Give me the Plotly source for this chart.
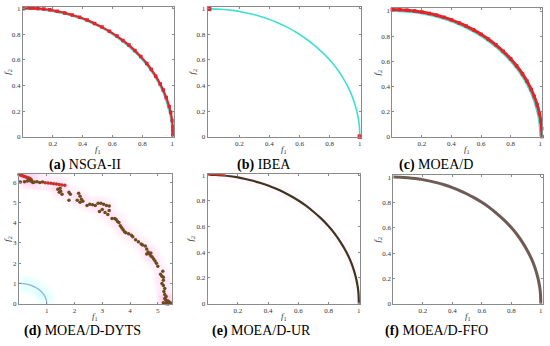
import plotly.graph_objects as go

W, H = 550, 346

# ---------------- data ----------------
# true Pareto front (quarter circle), read at regular spacing
pf_f1 = [0.0, 0.078, 0.156, 0.233, 0.309, 0.383, 0.454, 0.523, 0.588, 0.649, 0.707,
         0.760, 0.809, 0.853, 0.891, 0.924, 0.951, 0.972, 0.988, 0.997, 1.0]
pf_f2 = [1.0, 0.997, 0.988, 0.972, 0.951, 0.924, 0.891, 0.853, 0.809, 0.760, 0.707,
         0.649, 0.588, 0.523, 0.454, 0.383, 0.309, 0.233, 0.156, 0.078, 0.0]

# (a) NSGA-II
nsga_f1 = [0.0, 0.05, 0.07, 0.10, 0.14, 0.18, 0.23, 0.28, 0.33, 0.38, 0.43, 0.48, 0.53, 0.58,
           0.63, 0.67, 0.71, 0.75, 0.79, 0.83, 0.86, 0.89, 0.92, 0.94, 0.96, 0.98, 0.99,
           1.0, 1.005, 1.005, 1.005, 1.005]
nsga_f2 = [1.0, 1.007, 1.006, 1.003, 0.998, 0.992, 0.981, 0.968, 0.952, 0.934, 0.912, 0.886,
           0.857, 0.824, 0.787, 0.753, 0.716, 0.673, 0.626, 0.572, 0.526, 0.473, 0.412,
           0.364, 0.307, 0.236, 0.190, 0.127, 0.078, 0.05, 0.02, 0.0]

# (b) IBEA
ibea_f1 = [0.0, 1.0]
ibea_f2 = [1.0, 0.0]

# (c) MOEA/D
moead_f1 = [0.0, 0.05, 0.10, 0.15, 0.20, 0.25, 0.30, 0.35, 0.40, 0.45, 0.50, 0.55, 0.60,
            0.65, 0.70, 0.75, 0.80, 0.84, 0.88, 0.91, 0.94, 0.96, 0.98, 0.995, 1.005,
            1.010, 1.012]
moead_f2 = [1.012, 1.011, 1.007, 1.001, 0.992, 0.981, 0.967, 0.950, 0.930, 0.906, 0.880,
            0.850, 0.815, 0.776, 0.731, 0.679, 0.620, 0.564, 0.500, 0.443, 0.375, 0.320,
            0.252, 0.185, 0.119, 0.064, 0.0]

# (d) MOEA/D-DYTS
dyts_red_f1 = [0.0, 0.05, 0.1, 0.15, 0.2, 0.25, 0.3, 0.35, 0.4,
               0.95, 1.05, 1.15, 1.25, 1.35, 1.45, 1.55, 1.65, 5.3, 5.4]
dyts_red_f2 = [6.37, 6.35, 6.33, 6.3, 6.28, 6.25, 6.22, 6.2, 6.18,
               5.97, 5.96, 5.94, 5.92, 5.9, 5.88, 5.86, 5.84, 0.0, 0.02]
dyts_f1 = [0.05, 0.2, 0.3, 0.35, 0.42, 0.45, 0.5, 0.55, 0.65, 0.75, 0.85,
           1.4, 1.45, 1.48, 1.5, 1.55,
           1.8, 1.85, 1.8, 2.1, 2.15, 2.2, 2.25, 2.3, 2.2,
           2.45, 2.55, 2.65, 2.75,
           2.85, 2.95, 3.05, 3.15, 3.25, 2.9, 3.0, 3.1, 3.2, 3.25,
           3.35, 3.45, 3.5, 3.55, 3.6,
           3.65, 3.7, 3.75, 3.8, 3.85,
           3.95, 4.05, 4.1, 4.2, 4.3, 4.4, 4.45, 4.55,
           4.6, 4.65, 4.7, 4.75, 4.8, 4.85, 4.9, 4.95, 4.6, 4.75,
           5.0, 5.1, 5.15, 5.2, 5.15, 5.2, 5.25, 5.22, 5.25, 5.3, 5.28, 5.35, 5.4,
           5.3, 5.45, 5.38, 5.42, 5.2, 5.25, 5.18, 5.2, 5.32, 5.36]
dyts_f2 = [6.0, 6.02, 6.05, 6.12, 6.05, 6.1, 5.98, 6.0, 6.02, 5.98, 6.0,
           5.65, 5.5, 5.7, 5.55, 5.4,
           5.5, 5.4, 5.1, 5.1, 5.45, 5.3, 5.15, 5.05, 5.0,
           4.85, 4.9, 4.88, 4.85,
           4.95, 4.95, 4.9, 4.85, 4.82, 4.55, 4.65, 4.5, 4.4, 4.6,
           4.2, 4.2, 4.15, 4.05, 4.0,
           3.85, 3.75, 3.65, 3.55, 3.5,
           3.45, 3.38, 3.3, 3.15, 3.05, 2.95, 2.9, 2.85,
           2.7, 2.55, 2.45, 2.35, 2.3, 2.2, 2.1, 2.0, 2.45, 2.5,
           1.85, 1.45, 1.35, 1.15, 1.0, 0.9, 0.75, 0.6, 0.45, 0.35, 0.2, 0.15, 0.1,
           0.05, 0.05, 0.0, 0.02, 0.05, 0.25, 1.6, 1.3, 0.1, 0.0]

# (e) MOEA/D-UR
ur_red_f1 = [0.0, 0.04, 0.08, 0.12]
ur_red_f2 = [1.006, 1.006, 1.004, 1.0]
ur_f1 = [0.0, 0.05, 0.10, 0.15, 0.20, 0.25, 0.30, 0.35, 0.40, 0.45, 0.50, 0.55, 0.60,
         0.65, 0.70, 0.75, 0.80, 0.84, 0.88, 0.91, 0.94, 0.96, 0.98, 0.99, 0.997, 1.0]
ur_f2 = [1.003, 1.002, 0.998, 0.992, 0.983, 0.971, 0.957, 0.940, 0.920, 0.896, 0.869,
         0.838, 0.803, 0.763, 0.716, 0.664, 0.603, 0.546, 0.478, 0.418, 0.347, 0.287,
         0.206, 0.150, 0.090, 0.0]

# (f) MOEA/D-FFO
ffo_f1 = [0.0, 0.05, 0.10, 0.15, 0.20, 0.25, 0.30, 0.35, 0.40, 0.45, 0.50, 0.55, 0.60,
          0.65, 0.70, 0.75, 0.80, 0.84, 0.88, 0.91, 0.94, 0.96, 0.98, 0.99, 0.997, 1.0]
ffo_f2 = [1.003, 1.002, 0.998, 0.992, 0.983, 0.971, 0.957, 0.940, 0.920, 0.896, 0.869,
          0.838, 0.803, 0.763, 0.716, 0.664, 0.603, 0.546, 0.478, 0.418, 0.347, 0.287,
          0.206, 0.150, 0.090, 0.0]

unit_ticks = [0.2, 0.4, 0.6, 0.8, 1]
unit_yticks = [0, 0.2, 0.4, 0.6, 0.8, 1]
dyts_xticks = [1, 2, 3, 4, 5]
dyts_yticks = [0, 1, 2, 3, 4, 5, 6]

captions = [("(a)", "NSGA-II"), ("(b)", "IBEA"), ("(c)", "MOEA/D"),
            ("(d)", "MOEA/D-DYTS"), ("(e)", "MOEA/D-UR"), ("(f)", "MOEA/D-FFO")]

# ---------------- layout (pixel boxes) ----------------
boxes = [  # left, right, top, bottom, xrange, yrange, xticks, yticks, f2-label x
    (23, 174, 5, 137, [0, 1.01], [0, 1.015], unit_ticks, unit_yticks, 8),
    (208, 362, 5, 137, [-0.01, 1.01], [0, 1.015], unit_ticks, unit_yticks, 193),
    (393, 543, 6, 137, [0, 1.012], [0, 1.025], unit_ticks, unit_yticks, 378),
    (19, 172, 175, 307, [0, 5.5], [0, 6.4], dyts_xticks, dyts_yticks, 8),
    (208, 361, 175, 307, [0, 1.01], [0, 1.01], unit_ticks, unit_yticks, 191),
    (394, 544, 176, 307, [0, 1.015], [0, 1.02], unit_ticks, unit_yticks, 378),
]
cap_x = [85, 264, 437, 83, 262, 437]

CYAN = "#40E0D0"
RED = "#E3242B"
BROWN = "#6E4A1F"

fig = go.Figure()

def ax(i):
    return ("x" if i == 0 else f"x{i+1}"), ("y" if i == 0 else f"y{i+1}")

def add(i, **kw):
    xa, ya = ax(i)
    fig.add_trace(go.Scatter(xaxis=xa, yaxis=ya, showlegend=False, hoverinfo="skip", **kw))

# (a)
add(0, x=pf_f1, y=pf_f2, mode="lines", line=dict(color=CYAN, width=1.6, shape="spline"))
add(0, x=nsga_f1, y=nsga_f2, mode="lines+markers", line=dict(color=RED, width=2.2, shape="spline"),
    marker=dict(color=RED, size=3.5, symbol="square"))
# (b)
add(1, x=pf_f1, y=pf_f2, mode="lines", line=dict(color=CYAN, width=1.6, shape="spline"))
add(1, x=ibea_f1, y=ibea_f2, mode="markers", marker=dict(color=RED, size=4.5, symbol="square"), cliponaxis=False)
# (c)
add(2, x=pf_f1, y=pf_f2, mode="lines", line=dict(color=CYAN, width=2, shape="spline"))
add(2, x=moead_f1, y=moead_f2, mode="lines+markers", line=dict(color=RED, width=3, shape="spline"),
    marker=dict(color=RED, size=3.5, symbol="square"), cliponaxis=False)
# (d)
add(3, x=dyts_f1 + dyts_red_f1, y=dyts_f2 + dyts_red_f2, mode="markers",
    marker=dict(color="rgba(255,110,210,0.025)", size=16, symbol="square"))
add(3, x=pf_f1, y=pf_f2, mode="markers",
    marker=dict(color="rgba(120,240,240,0.025)", size=16, symbol="square"))
add(3, x=pf_f1, y=pf_f2, mode="lines", line=dict(color="#8FB3DE", width=1.3, shape="spline"))
add(3, x=dyts_red_f1, y=dyts_red_f2, mode="markers", marker=dict(color="#C8302A", size=3.5), cliponaxis=False)
add(3, x=dyts_f1, y=dyts_f2, mode="markers", marker=dict(color=BROWN, size=3.5), cliponaxis=False)
# (e)
add(4, x=ur_f1, y=ur_f2, mode="markers",
    marker=dict(color="rgba(255,120,200,0.03)", size=12, symbol="square"))
add(4, x=ur_f1, y=ur_f2, mode="lines", line=dict(color="#3E3420", width=2.2, shape="spline"))
add(4, x=ur_red_f1, y=ur_red_f2, mode="lines", line=dict(color="#D23A30", width=1.6, shape="spline"),
    cliponaxis=False)
# (f)
add(5, x=ffo_f1, y=ffo_f2, mode="lines", line=dict(color="#6F5B55", width=3, shape="spline"))

axis_common = dict(showgrid=False, zeroline=False, showline=True, linecolor="#8a8a8a", linewidth=1,
                   mirror="ticks", ticks="inside", ticklen=2, tickcolor="#8a8a8a",
                   tickfont=dict(family="Liberation Serif", size=7, color="#333"), fixedrange=True)

layout = dict(width=W, height=H, margin=dict(l=0, r=0, t=0, b=0),
              paper_bgcolor="white", plot_bgcolor="white", annotations=[])

for i, (l, r, t, b, xr, yr, xt, yt, f2x) in enumerate(boxes):
    xk = "xaxis" if i == 0 else f"xaxis{i+1}"
    yk = "yaxis" if i == 0 else f"yaxis{i+1}"
    xa, ya = ax(i)
    layout[xk] = dict(axis_common, domain=[l / W, r / W], range=xr, tickvals=xt, anchor=ya)
    layout[yk] = dict(axis_common, domain=[1 - b / H, 1 - t / H], range=yr, tickvals=yt, anchor=xa)
    layout["annotations"].append(dict(
        text="<i>f</i><sub>1</sub>", xref="paper", yref="paper",
        x=(l + r) / 2 / W, y=1 - (b + 13) / H, showarrow=False,
        font=dict(family="Liberation Serif", size=9, color="#333"), xanchor="center", yanchor="middle"))
    layout["annotations"].append(dict(
        text="<i>f</i><sub>2</sub>", xref="paper", yref="paper",
        x=f2x / W, y=1 - (t + b) / 2 / H, showarrow=False, textangle=-90,
        font=dict(family="Liberation Serif", size=9, color="#333"), xanchor="center", yanchor="middle"))
    cy = 166 if i < 3 else 335
    lab, name = captions[i]
    layout["annotations"].append(dict(
        text=f"<b>{lab}</b> {name}", xref="paper", yref="paper",
        x=cap_x[i] / W, y=1 - cy / H, showarrow=False,
        font=dict(family="Liberation Serif", size=14, color="black"),
        xanchor="center", yanchor="middle"))

fig.update_layout(**layout)
fig.write_html("out.html", config={"displayModeBar": False},
               post_script="document.body.style.margin='0';document.body.style.padding='0';")
